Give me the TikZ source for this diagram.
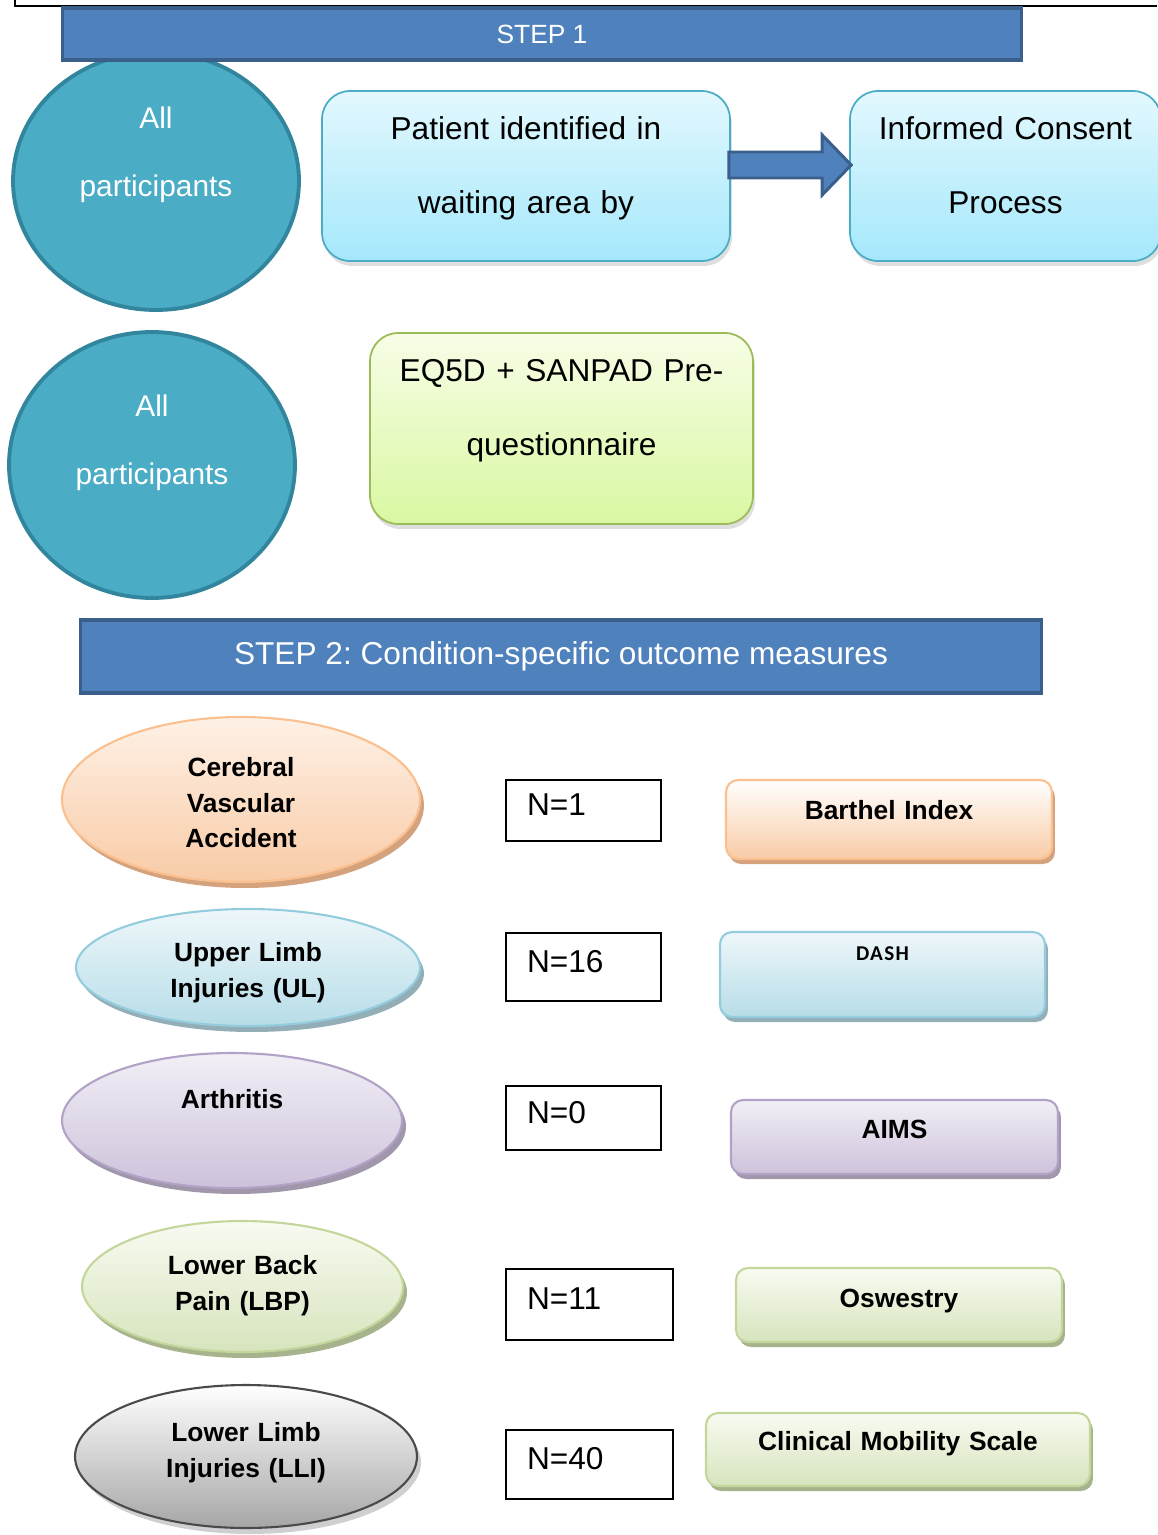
\documentclass[tikz,border=0pt]{standalone}
\usepackage{fontspec}
\setmainfont{Liberation Sans}
\newfontfamily\dashfont[LetterSpace=6]{Carlito}
\usetikzlibrary{shapes.geometric,shadows,calc}
\frenchspacing

\definecolor{stepblue}{HTML}{4F81BD}
\definecolor{stepedge}{HTML}{3A5F8B}
\definecolor{ballfill}{HTML}{4BACC6}
\definecolor{balledge}{HTML}{31859C}
\definecolor{skyedge}{HTML}{4BACC6}
\definecolor{skytop}{HTML}{E3F8FE}
\definecolor{skybot}{HTML}{A5E8FB}
\definecolor{limeedge}{HTML}{9BBB59}
\definecolor{limetop}{HTML}{F7FDE6}
\definecolor{limebot}{HTML}{D9F8A2}
\definecolor{orEdge}{HTML}{FAC090}
\definecolor{orTop}{HTML}{FEF1E6}
\definecolor{orBot}{HTML}{F9CBA6}
\definecolor{orShade}{HTML}{D4A27C}
\definecolor{blEdge}{HTML}{93CDDD}
\definecolor{blTop}{HTML}{EEF7FA}
\definecolor{blBot}{HTML}{B7DDE8}
\definecolor{blShade}{HTML}{93AEB6}
\definecolor{puEdge}{HTML}{B3A2C7}
\definecolor{puTop}{HTML}{F2EFF6}
\definecolor{puBot}{HTML}{CDC2DB}
\definecolor{puShade}{HTML}{A097AB}
\definecolor{grEdge}{HTML}{C3D69B}
\definecolor{grTop}{HTML}{F8FBF1}
\definecolor{grBot}{HTML}{D7E4BD}
\definecolor{grShade}{HTML}{A6B38D}
\definecolor{gyEdge}{HTML}{4A4A4A}
\definecolor{gyTop}{HTML}{FFFFFF}
\definecolor{gyBot}{HTML}{A6A6A6}
\definecolor{gyShade}{HTML}{CFCFCF}

\begin{document}
\begin{tikzpicture}[x=0.02cm, y=-0.02cm,
    every node/.style={align=center, inner sep=0pt},
    tx/.style={text height=0.5cm, text depth=#1},
    banner/.style={rectangle, draw=stepedge, line width=1.8pt, fill=stepblue, text=white},
    ball/.style={ellipse, draw=balledge, line width=2.2pt, fill=ballfill, text=white, text width=3.6cm, font=\fontsize{17}{38.7}\selectfont},
    soft/.style n args={3}{rectangle, rounded corners=0.56cm, draw=#1, line width=1pt, top color=#2, bottom color=#3, font=\fontsize{18}{42}\selectfont, drop shadow={opacity=0.25, shadow xshift=0.04cm, shadow yshift=-0.1cm}},
    cond/.style n args={4}{ellipse, draw=#1, line width=1.2pt, top color=#2, bottom color=#3, general shadow={fill=#4, shadow xshift=0.08cm, shadow yshift=-0.12cm}, text width=3.4cm, font=\fontsize{15}{20.2}\selectfont\bfseries},
    measure/.style n args={4}{rectangle, rounded corners=0.24cm, draw=#1, line width=1.2pt, top color=#2, bottom color=#3, general shadow={fill=#4, shadow xshift=0.06cm, shadow yshift=-0.1cm}, text width=6cm, font=\fontsize{15}{18}\selectfont\bfseries},
    count/.style={rectangle, draw, line width=0.6pt, align=left, inner xsep=0.42cm, tx=0.3cm, font=\fontsize{18}{22}\selectfont},
    pipe/.style={fill=stepblue, draw=stepedge, line width=1.7pt}]
    \useasboundingbox (0,0) rectangle (1157,1535);
    \draw[line width=0.6pt] (15,0) -- (15,6) -- (1157,6);

    % step 1
    \node[ball, minimum width=5.72cm, minimum height=5.16cm, tx=2.62cm] (allA) at (156,181) {All\\participants};
    \node[ball, minimum width=5.72cm, minimum height=5.32cm, tx=2.46cm] (allB) at (152,465) {All\\participants};
    \node[banner, minimum width=19.2cm, minimum height=1.04cm, font=\fontsize{15}{18}\selectfont] (stepA) at (542,34) {STEP 1};
    \node[soft={skyedge}{skytop}{skybot}, minimum width=8.16cm, minimum height=3.4cm, text width=7.6cm, tx=1.96cm] (patient) at (526,176) {Patient identified in\\waiting area by};
    \node[soft={skyedge}{skytop}{skybot}, minimum width=6.22cm, minimum height=3.4cm, text width=5.6cm, tx=1.96cm] (consent) at (1005.5,176) {Informed Consent\\Process};
    \node[soft={limeedge}{limetop}{limebot}, minimum width=7.66cm, minimum height=3.82cm, text width=7.2cm, tx=2.38cm] (eqfd) at (561.5,428.5) {EQ5D + SANPAD Pre-\\questionnaire};

    \coordinate (aS) at ($(patient.east)+(0,-11)$);
    \coordinate (aT) at ($(consent.west)+(2,-11)$);
    \draw[pipe] ($(aS)+(-2,-13)$) -- ($(aT)+(-29,-13)$) -- ($(aT)+(-29,-30)$) -- (aT) -- ($(aT)+(-29,30)$) -- ($(aT)+(-29,13)$) -- ($(aS)+(-2,13)$) -- cycle;

    % step 2
    \node[banner, minimum width=19.24cm, minimum height=1.46cm, font=\fontsize{18}{22}\selectfont] (stepB) at (561,656.5) {STEP 2: Condition-specific outcome measures};

    \node[cond={orEdge}{orTop}{orBot}{orShade}, minimum width=7.16cm, minimum height=3.3cm, tx=1.41cm] (cva) at (241,799.5) {Cerebral\\Vascular\\Accident};
    \node[cond={blEdge}{blTop}{blBot}{blShade}, minimum width=6.88cm, minimum height=2.34cm, tx=0.73cm] (ul) at (248,967.5) {Upper Limb\\Injuries (UL)};
    \node[cond={puEdge}{puTop}{puBot}{puShade}, minimum width=6.8cm, minimum height=2.7cm, tx=0.97cm] (arth) at (232,1120.5) {Arthritis};
    \node[cond={grEdge}{grTop}{grBot}{grShade}, minimum width=6.42cm, minimum height=2.62cm, tx=0.97cm] (lbp) at (242.5,1286.5) {Lower Back\\Pain (LBP)};
    \node[cond={gyEdge}{gyTop}{gyBot}{gyShade}, minimum width=6.84cm, minimum height=2.86cm, tx=1.09cm] (lli) at (246,1456.5) {Lower Limb\\Injuries (LLI)};

    \node[count, minimum width=3.1cm, minimum height=1.22cm, text width=2.26cm] (nCva) at (583.5,810.5) {N=1};
    \node[count, minimum width=3.1cm, minimum height=1.36cm, text width=2.26cm] (nUl) at (583.5,967) {N=16};
    \node[count, minimum width=3.1cm, minimum height=1.28cm, text width=2.26cm] (nArth) at (583.5,1118) {N=0};
    \node[count, minimum width=3.34cm, minimum height=1.42cm, text width=2.5cm] (nLbp) at (589.5,1304.5) {N=11};
    \node[count, minimum width=3.34cm, minimum height=1.38cm, text width=2.5cm] (nLli) at (589.5,1464.5) {N=40};

    \node[measure={orEdge}{white}{orBot}{orShade}, minimum width=6.52cm, minimum height=1.58cm, tx=0.5cm] (barthel) at (889,819.5) {Barthel Index};
    \node[measure={blEdge}{blTop}{blBot}{blShade}, minimum width=6.5cm, minimum height=1.7cm, tx=1.08cm, font=\fontsize{12}{14}\dashfont\bfseries] (dash) at (882.5,974.5) {DASH};
    \node[measure={puEdge}{puTop}{puBot}{puShade}, minimum width=6.54cm, minimum height=1.48cm, tx=0.43cm] (aims) at (894.5,1137) {AIMS};
    \node[measure={grEdge}{grTop}{grBot}{grShade}, minimum width=6.52cm, minimum height=1.48cm, tx=0.4cm] (osw) at (899,1305) {Oswestry};
    \node[measure={grEdge}{grTop}{grBot}{grShade}, minimum width=7.68cm, minimum height=1.46cm, tx=0.46cm] (cms) at (898,1449.5) {Clinical Mobility Scale};
\end{tikzpicture}
\end{document}
